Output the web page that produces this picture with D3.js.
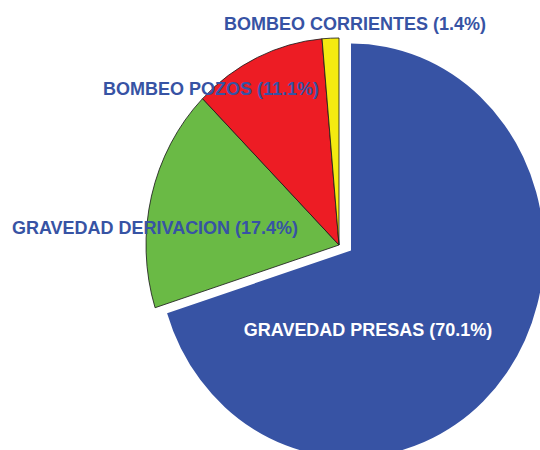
<!DOCTYPE html>
<html>
<head>
<meta charset="utf-8">
<script src="https://cdn.jsdelivr.net/npm/d3@7"></script>
<style>
  body { margin: 0; background: #fff; }
  text { font-family: "Liberation Sans", Arial, sans-serif; font-weight: bold; }
</style>
</head>
<body>
<svg id="chart" width="540" height="450"></svg>
<script>
// data
var categories = ["GRAVEDAD PRESAS", "GRAVEDAD DERIVACION", "BOMBEO POZOS", "BOMBEO CORRIENTES"];
var shares = [70.1, 17.4, 11.1, 1.4];
var colors = ["#3753a4", "#6aba45", "#ed1c24", "#f4ea10"];

// layout
var cx = 339, cy = 245;
var rx = 193, ry = 207;
var explode = [12, 5.5];          // first slice is pulled out
var labelPos = [[368, 336], [155, 234], [211, 95], [355, 30]];  // label centre / baseline
var labelFill = ["#fff", "#3753a4", "#3753a4", "#3753a4"];

var svg = d3.select("#chart");

var pie = d3.pie().sort(null).value(function(d) { return d; });
var arc = d3.arc().innerRadius(0).outerRadius(rx);

var arcs = pie(shares);

var g = svg.append("g")
    .attr("transform", "translate(" + cx + "," + cy + ")");

g.selectAll("path")
    .data(arcs)
    .enter().append("path")
    .attr("transform", function(d, i) {
        var dx = i == 0 ? explode[0] : 0, dy = i == 0 ? explode[1] : 0;
        return "translate(" + dx + "," + dy + ") scale(1," + (ry / rx) + ")";
    })
    .attr("d", arc)
    .attr("fill", function(d, i) { return colors[i]; })
    .attr("stroke", function(d, i) { return i == 0 ? "none" : "#1a1a1a"; })
    .attr("stroke-width", 0.8)
    .attr("stroke-linejoin", "round");

// labels are a little stretched vertically, like the pie
svg.selectAll("text.lbl")
    .data(categories)
    .enter().append("text")
    .attr("class", "lbl")
    .attr("transform", function(d, i) {
        return "translate(" + labelPos[i][0] + "," + labelPos[i][1] + ") scale(1,1.07)";
    })
    .attr("text-anchor", "middle")
    .attr("font-size", 18)
    .attr("fill", function(d, i) { return labelFill[i]; })
    .text(function(d, i) { return d + " (" + shares[i].toFixed(1) + "%)"; });
</script>
</body>
</html>
